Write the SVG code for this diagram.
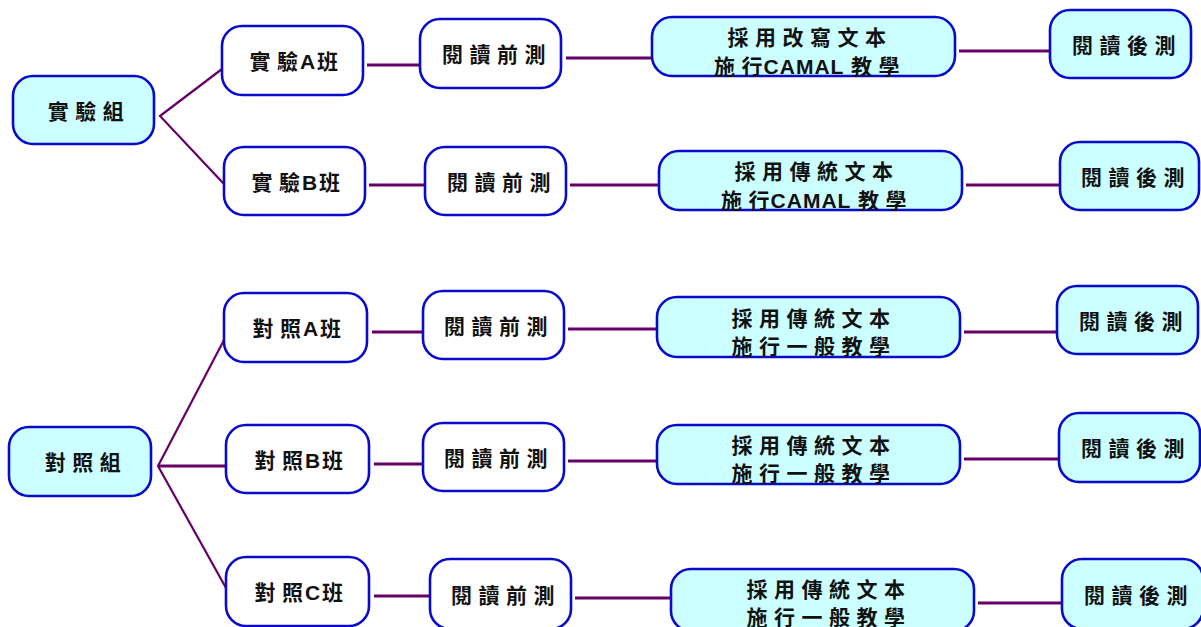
<svg xmlns="http://www.w3.org/2000/svg" width="1201" height="627" viewBox="0 0 1201 627">
<style>
.box{stroke:#0a0acc;stroke-width:2.6}
.w{fill:#ffffff}
.c{fill:#ccffff}
.t{font-family:"Liberation Sans","Noto Sans CJK TC",sans-serif;font-weight:bold;font-size:21px;fill:#111;text-anchor:middle;letter-spacing:6.5px}
.n{letter-spacing:2px}
.m{letter-spacing:1px}
.l{fill:none;stroke:#660066;stroke-width:2.8}
.d{fill:none;stroke:#660066;stroke-width:2.2}
</style>
<rect width="1201" height="627" fill="#ffffff"/>
<g id="connectors">
<path class="d" d="M222 69 L160 116 L224 184"/>
<path class="l" d="M367 65 H420"/>
<path class="l" d="M369 185 H425"/>
<path class="l" d="M566 58 H652"/>
<path class="l" d="M570 185 H659"/>
<path class="l" d="M959 51 H1050"/>
<path class="l" d="M966 185 H1060"/>
<path class="d" d="M224 340 L158 466 L226 588"/>
<path class="l" d="M158 466 H226"/>
<path class="l" d="M372 332 H423"/>
<path class="l" d="M374 464 H423"/>
<path class="l" d="M374 596 H430"/>
<path class="l" d="M568 329 H657"/>
<path class="l" d="M568 461 H657"/>
<path class="l" d="M575 598 H671"/>
<path class="l" d="M964 332 H1057"/>
<path class="l" d="M964 459 H1059"/>
<path class="l" d="M978 603 H1062"/>
</g>
<g id="n_exp"><rect class="box c" x="13" y="76" width="141" height="68" rx="20"/><text class="t" x="89" y="119">實驗組</text></g>
<g id="n_expA"><rect class="box w" x="222" y="26" width="141" height="69" rx="20"/><text class="t" x="297" y="69"><tspan>實</tspan><tspan class="n">驗A</tspan><tspan>班</tspan></text></g>
<g id="n_expB"><rect class="box w" x="224" y="147" width="141" height="68" rx="20"/><text class="t" x="299" y="190"><tspan>實</tspan><tspan class="n">驗B</tspan><tspan>班</tspan></text></g>
<g id="n_preA1"><rect class="box w" x="420" y="19" width="141" height="69" rx="20"/><text class="t" x="497" y="62">閱讀前測</text></g>
<g id="n_preB1"><rect class="box w" x="425" y="147" width="141" height="68" rx="20"/><text class="t" x="502" y="190">閱讀前測</text></g>
<g id="n_teachA"><rect class="box c" x="652" y="17" width="303" height="59" rx="20"/><text class="t" x="810" y="45">採用改寫文本</text><text class="t" x="810" y="74"><tspan>施</tspan><tspan class="m">行CAMAL </tspan><tspan>教學</tspan></text></g>
<g id="n_teachB"><rect class="box c" x="659" y="151" width="303" height="59" rx="20"/><text class="t" x="817" y="179">採用傳統文本</text><text class="t" x="817" y="208"><tspan>施</tspan><tspan class="m">行CAMAL </tspan><tspan>教學</tspan></text></g>
<g id="n_postA"><rect class="box c" x="1050" y="10" width="141" height="68" rx="20"/><text class="t" x="1127" y="53">閱讀後測</text></g>
<g id="n_postB"><rect class="box c" x="1060" y="142" width="139" height="68" rx="20"/><text class="t" x="1136" y="185">閱讀後測</text></g>
<g id="n_ctl"><rect class="box c" x="9" y="427" width="142" height="69" rx="20"/><text class="t" x="86" y="470">對照組</text></g>
<g id="n_ctlA"><rect class="box w" x="224" y="293" width="143" height="69" rx="20"/><text class="t" x="300" y="336"><tspan>對</tspan><tspan class="n">照A</tspan><tspan>班</tspan></text></g>
<g id="n_ctlB"><rect class="box w" x="226" y="425" width="143" height="68" rx="20"/><text class="t" x="302" y="468"><tspan>對</tspan><tspan class="n">照B</tspan><tspan>班</tspan></text></g>
<g id="n_ctlC"><rect class="box w" x="226" y="557" width="143" height="69" rx="20"/><text class="t" x="302" y="600"><tspan>對</tspan><tspan class="n">照C</tspan><tspan>班</tspan></text></g>
<g id="n_preCA"><rect class="box w" x="423" y="291" width="141" height="68" rx="20"/><text class="t" x="499" y="334">閱讀前測</text></g>
<g id="n_preCB"><rect class="box w" x="423" y="423" width="141" height="68" rx="20"/><text class="t" x="499" y="466">閱讀前測</text></g>
<g id="n_preCC"><rect class="box w" x="430" y="559" width="141" height="70" rx="20"/><text class="t" x="506" y="603">閱讀前測</text></g>
<g id="n_teachCA"><rect class="box c" x="657" y="297" width="303" height="60" rx="20"/><text class="t" x="814" y="326">採用傳統文本</text><text class="t" x="814" y="354">施行一般教學</text></g>
<g id="n_teachCB"><rect class="box c" x="657" y="425" width="303" height="59" rx="20"/><text class="t" x="814" y="453">採用傳統文本</text><text class="t" x="814" y="481">施行一般教學</text></g>
<g id="n_teachCC"><rect class="box c" x="671" y="569" width="303" height="62" rx="20"/><text class="t" x="829" y="597">採用傳統文本</text><text class="t" x="829" y="625">施行一般教學</text></g>
<g id="n_postCA"><rect class="box c" x="1057" y="286" width="141" height="68" rx="20"/><text class="t" x="1134" y="329">閱讀後測</text></g>
<g id="n_postCB"><rect class="box c" x="1059" y="413" width="141" height="69" rx="20"/><text class="t" x="1136" y="456">閱讀後測</text></g>
<g id="n_postCC"><rect class="box c" x="1062" y="559" width="141" height="70" rx="20"/><text class="t" x="1139" y="603">閱讀後測</text></g>
</svg>
